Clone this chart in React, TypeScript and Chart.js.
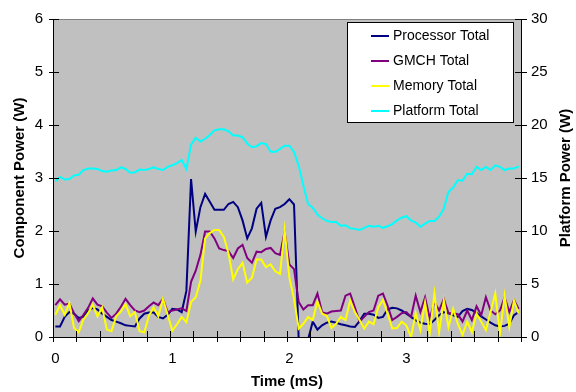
import React, { useEffect, useRef } from 'react';
import { Chart, registerables } from 'chart.js';

Chart.register(...registerables);

// Time axis (ms), one category per sample
const timeMs = [
  0, 0.04, 0.08, 0.12, 0.16, 0.2, 0.24, 0.28, 0.32, 0.36,
  0.4, 0.44, 0.48, 0.52, 0.56, 0.6, 0.64, 0.68, 0.72, 0.76,
  0.8, 0.84, 0.88, 0.92, 0.96, 1, 1.04, 1.08, 1.12, 1.16,
  1.2, 1.24, 1.28, 1.32, 1.36, 1.4, 1.44, 1.48, 1.52, 1.56,
  1.6, 1.64, 1.68, 1.72, 1.76, 1.8, 1.84, 1.88, 1.92, 1.96,
  2, 2.04, 2.08, 2.12, 2.16, 2.2, 2.24, 2.28, 2.32, 2.36,
  2.4, 2.44, 2.48, 2.52, 2.56, 2.6, 2.64, 2.68, 2.72, 2.76,
  2.8, 2.84, 2.88, 2.92, 2.96, 3, 3.04, 3.08, 3.12, 3.16,
  3.2, 3.24, 3.28, 3.32, 3.36, 3.4, 3.44, 3.48, 3.52, 3.56,
  3.6, 3.64, 3.68, 3.72, 3.76, 3.8, 3.84, 3.88, 3.92, 3.96,
];

const xTickValues = [0, 1, 2, 3];
const xTickLabels = ['0', '1', '2', '3'];
const leftTicks = [0, 1, 2, 3, 4, 5, 6];
const rightTicks = [0, 5, 10, 15, 20, 25, 30];

const seriesNames = ['Processor Total', 'GMCH Total', 'Memory Total', 'Platform Total'];
const seriesColors = ['#000080', '#800080', '#FFFF00', '#00FFFF'];

// Component power (W), left axis
const processorTotal = [
  0.20, 0.20, 0.38, 0.47, 0.44, 0.36, 0.38, 0.50, 0.55, 0.52,
  0.44, 0.38, 0.32, 0.29, 0.26, 0.22, 0.21, 0.20, 0.35, 0.44,
  0.46, 0.46, 0.38, 0.35, 0.42, 0.53, 0.52, 0.47, 0.87, 2.98,
  1.99, 2.45, 2.70, 2.55, 2.40, 2.40, 2.40, 2.51, 2.55, 2.45,
  2.20, 1.86, 2.05, 2.42, 2.53, 1.89, 2.20, 2.42, 2.45, 2.51,
  2.60, 2.50, -0.05, -0.10, -0.05, 0.29, 0.14, 0.22, 0.27, 0.29,
  0.27, 0.24, 0.22, 0.20, 0.19, 0.30, 0.44, 0.44, 0.42, 0.36,
  0.38, 0.52, 0.55, 0.54, 0.50, 0.44, 0.38, 0.32, 0.27, 0.25,
  0.24, 0.32, 0.41, 0.47, 0.45, 0.41, 0.38, 0.49, 0.53, 0.51,
  0.45, 0.39, 0.33, 0.27, 0.22, 0.20, 0.21, 0.25, 0.41, 0.47,
];

const gmchTotal = [
  0.60, 0.71, 0.61, 0.63, 0.45, 0.30, 0.42, 0.55, 0.73, 0.61,
  0.58, 0.46, 0.36, 0.44, 0.57, 0.72, 0.60, 0.50, 0.47, 0.50,
  0.58, 0.65, 0.60, 0.72, 0.47, 0.50, 0.52, 0.54, 0.49, 1.04,
  1.25, 1.55, 1.99, 1.99, 1.86, 1.67, 1.64, 1.62, 1.49, 1.67,
  1.74, 1.49, 1.40, 1.61, 1.60, 1.66, 1.68, 1.58, 1.55, 1.99,
  1.37, 1.28, 0.66, 0.52, 0.60, 0.60, 0.82, 0.47, 0.44, 0.48,
  0.49, 0.50, 0.78, 0.82, 0.56, 0.29, 0.38, 0.47, 0.50, 0.78,
  0.82, 0.59, 0.32, 0.38, 0.45, 0.47, 0.38, 0.78, 0.47, 0.75,
  0.35, 0.66, 0.50, 0.72, 0.45, 0.45, 0.43, 0.29, 0.50, 0.32,
  0.58, 0.41, 0.75, 0.50, 0.43, 0.50, 0.75, 0.47, 0.70, 0.53,
];

const memoryTotal = [
  0.42, 0.60, 0.42, 0.64, 0.17, 0.09, 0.33, 0.45, 0.61, 0.39,
  0.56, 0.14, 0.11, 0.39, 0.48, 0.62, 0.39, 0.47, 0.11, 0.09,
  0.40, 0.56, 0.39, 0.72, 0.42, 0.12, 0.24, 0.38, 0.28, 0.66,
  0.75, 1.06, 1.86, 1.96, 2.02, 2.02, 1.89, 1.58, 1.09, 1.28,
  1.40, 1.03, 1.12, 1.46, 1.46, 1.32, 1.37, 1.24, 1.19, 2.02,
  1.12, 0.72, 0.16, 0.25, 0.38, 0.32, 0.67, 0.44, 0.40, 0.17,
  0.25, 0.38, 0.32, 0.69, 0.47, 0.32, 0.16, 0.29, 0.24, 0.56,
  0.70, 0.44, 0.16, 0.17, 0.29, 0.22, 0.00, 0.45, 0.13, 0.65,
  0.07, 0.82, 0.09, 0.69, 0.19, 0.53, 0.25, 0.04, 0.29, 0.09,
  0.44, 0.29, 0.13, 0.47, 0.82, 0.07, 0.78, 0.19, 0.69, 0.44,
];

// Platform power (W), right axis
const platformTotal = [
  14.7, 15.1, 14.85, 14.9, 15.25, 15.3, 15.75, 15.9, 15.9, 15.85,
  15.65, 15.6, 15.7, 15.75, 16.0, 15.85, 15.5, 15.55, 15.8, 15.75,
  15.85, 16.0, 15.85, 15.75, 16.05, 16.2, 16.4, 16.7, 15.85, 18.15,
  18.8, 18.45, 18.7, 19.05, 19.5, 19.6, 19.6, 19.4, 19.0, 19.0,
  18.85, 18.25, 17.9, 18.0, 18.3, 18.2, 17.5, 17.45, 17.75, 18.05,
  18.05, 17.45, 16.15, 14.3, 12.55, 12.2, 11.55, 11.2, 10.95, 10.85,
  10.85, 10.5, 10.55, 10.25, 10.2, 10.1, 10.3, 10.5, 10.4, 10.5,
  10.3, 10.45, 10.65, 11.0, 11.25, 11.4, 11.0, 10.8, 10.4, 10.7,
  10.95, 10.95, 11.35, 12.1, 13.7, 14.1, 14.8, 14.75, 15.4, 15.35,
  16.05, 15.75, 16.05, 15.75, 16.2, 16.05, 15.75, 15.9, 15.9, 16.1,
];

const FONT = "'Liberation Sans', Arial, sans-serif";

const framePlugin = {
  id: 'frame',
  beforeDraw(chart: any) {
    const { ctx, chartArea: a } = chart;
    ctx.save();
    ctx.fillStyle = '#C0C0C0';
    ctx.fillRect(a.left, a.top, a.right - a.left, a.bottom - a.top);
    ctx.restore();
  },
  afterDraw(chart: any) {
    const { ctx, chartArea: a, scales } = chart;
    ctx.save();
    // top border
    ctx.strokeStyle = '#808080';
    ctx.lineWidth = 1;
    ctx.beginPath();
    ctx.moveTo(a.left, Math.round(a.top) + 0.5);
    ctx.lineTo(a.right, Math.round(a.top) + 0.5);
    ctx.stroke();

    // tick marks (crossing axes)
    ctx.strokeStyle = '#000000';
    ctx.beginPath();
    for (const v of leftTicks) {
      const py = Math.round(scales.y.getPixelForValue(v)) + 0.5;
      ctx.moveTo(a.left - 4, py);
      ctx.lineTo(a.left + 6, py);
    }
    for (const v of rightTicks) {
      const py = Math.round(scales.y2.getPixelForValue(v)) + 0.5;
      ctx.moveTo(a.right - 6, py);
      ctx.lineTo(a.right + 6, py);
    }
    for (let i = 0; i <= timeMs.length; i += 5) {
      const px = Math.round(scales.x.getPixelForValue(i - 0.5)) + 0.5;
      ctx.moveTo(px, a.bottom - 6);
      ctx.lineTo(px, a.bottom + 5);
    }
    ctx.stroke();

    // axis titles
    ctx.fillStyle = '#000000';
    ctx.font = `bold 15px ${FONT}`;
    ctx.textAlign = 'center';
    ctx.textBaseline = 'middle';
    const cy = (a.top + a.bottom) / 2;
    ctx.save();
    ctx.translate(20, cy);
    ctx.rotate(-Math.PI / 2);
    ctx.fillText('Component Power (W)', 0, 0);
    ctx.restore();
    ctx.save();
    ctx.translate(566, cy);
    ctx.rotate(-Math.PI / 2);
    ctx.fillText('Platform Power (W)', 0, 0);
    ctx.restore();
    ctx.fillText('Time (mS)', (a.left + a.right) / 2, 382);

    // legend box
    const boxRight = Math.round(a.right) - 8;
    const boxLeft = boxRight - 166;
    const boxTop = Math.round(a.top) + 3;
    const boxH = 100;
    ctx.fillStyle = '#FFFFFF';
    ctx.fillRect(boxLeft, boxTop, boxRight - boxLeft, boxH);
    ctx.strokeStyle = '#000000';
    ctx.lineWidth = 1;
    ctx.strokeRect(boxLeft + 0.5, boxTop + 0.5, boxRight - boxLeft, boxH);
    ctx.font = `14px ${FONT}`;
    ctx.textAlign = 'left';
    for (let i = 0; i < seriesNames.length; i++) {
      const yy = boxTop + 14 + i * 25;
      ctx.strokeStyle = seriesColors[i];
      ctx.lineWidth = 2;
      ctx.beginPath();
      ctx.moveTo(boxLeft + 24, yy);
      ctx.lineTo(boxLeft + 42, yy);
      ctx.stroke();
      ctx.fillStyle = '#000000';
      ctx.fillText(seriesNames[i], boxLeft + 46, yy);
    }
    ctx.restore();
  },
};

export default function App() {
  const canvasRef = useRef<HTMLCanvasElement | null>(null);

  useEffect(() => {
    const canvas = canvasRef.current;
    if (!canvas) return;
    const seriesData = [processorTotal, gmchTotal, memoryTotal, platformTotal];
    const chart = new Chart(canvas, {
      type: 'line',
      data: {
        labels: timeMs,
        datasets: seriesData.map((d, i) => ({
          label: seriesNames[i],
          data: d,
          borderColor: seriesColors[i],
          backgroundColor: seriesColors[i],
          borderWidth: 2,
          pointRadius: 0,
          tension: 0,
          fill: false,
          yAxisID: i === 3 ? 'y2' : 'y',
          order: 4 - i,
        })),
      },
      options: {
        responsive: false,
        animation: false,
        events: [],
        layout: { padding: { top: 14, left: 0, right: 0, bottom: 0 } },
        plugins: {
          legend: { display: false },
          tooltip: { enabled: false },
          title: { display: false },
        },
        scales: {
          x: {
            type: 'category',
            offset: true,
            grid: { display: false, drawTicks: false, offset: true },
            border: { display: true, color: '#000000', width: 1 },
            ticks: {
              autoSkip: false,
              maxRotation: 0,
              minRotation: 0,
              padding: 13,
              color: '#000000',
              font: { family: FONT, size: 15 },
              callback: (_v: any, idx: number) => {
                const k = xTickValues.indexOf(timeMs[idx]);
                return k >= 0 ? xTickLabels[k] : '';
              },
            },
            afterFit: (s: any) => {
              s.height = 55;
            },
          },
          y: {
            type: 'linear',
            position: 'left',
            min: 0,
            max: 6,
            grid: { display: false, drawTicks: false },
            border: { display: true, color: '#000000', width: 1 },
            ticks: {
              stepSize: 1,
              padding: 10,
              color: '#000000',
              font: { family: FONT, size: 15 },
            },
            afterFit: (s: any) => {
              s.width = 53;
            },
          },
          y2: {
            type: 'linear',
            position: 'right',
            min: 0,
            max: 30,
            grid: { display: false, drawTicks: false },
            border: { display: true, color: '#000000', width: 1 },
            ticks: {
              stepSize: 5,
              padding: 10,
              color: '#000000',
              font: { family: FONT, size: 15 },
            },
            afterFit: (s: any) => {
              s.width = 55;
            },
          },
        },
      },
      plugins: [framePlugin],
    });
    return () => chart.destroy();
  }, []);

  return (
    <div style={{ position: 'fixed', left: 0, top: 0, width: 576, height: 392, background: '#FFFFFF' }}>
      <canvas ref={canvasRef} width={576} height={392} style={{ display: 'block' }} />
    </div>
  );
}
